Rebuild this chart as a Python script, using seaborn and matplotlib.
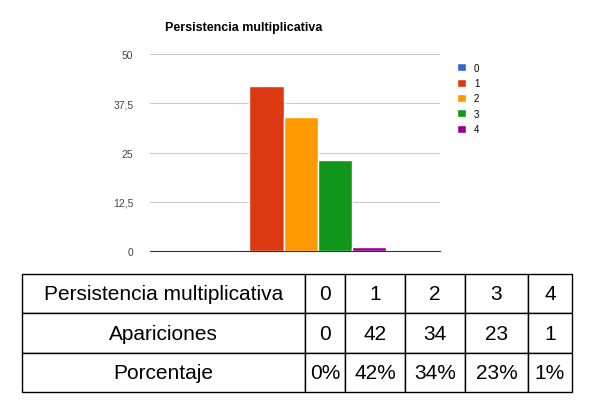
import matplotlib
matplotlib.use("Agg")
import matplotlib.pyplot as plt
import seaborn as sns
import pandas as pd

plt.rcParams["font.family"] = "Liberation Sans"

series = ["0", "1", "2", "3", "4"]
values = [0, 42, 34, 23, 1]
colors = ["#3366cc", "#dc3912", "#ff9900", "#109618", "#990099"]
row_labels = ["Persistencia multiplicativa", "Apariciones", "Porcentaje"]
percent = ["0%", "42%", "34%", "23%", "1%"]
yticks = [0, 12.5, 25, 37.5, 50]
ytick_labels = ["0", "12,5", "25", "37,5", "50"]

df = pd.DataFrame({"cat": [""] * 5, "serie": series, "val": values})

fig = plt.figure(figsize=(6, 4.14), dpi=100)
ax = fig.add_axes([150/600, 1-252/414, 290/600, 197/414])
sns.barplot(data=df, x="cat", y="val", hue="serie", palette=colors, width=0.59,
            ax=ax, saturation=1, dodge=True, edgecolor="white", linewidth=1)
ax.set_ylim(0, 50)
ax.set_xlim(-0.52, 0.48)
ax.set_yticks(yticks)
ax.set_yticklabels(ytick_labels, fontsize=7.5, color="#444444")
ax.tick_params(length=0, pad=12)
ax.set_xticks([])
ax.set_xlabel(""); ax.set_ylabel("")
ax.grid(axis="y", color="#cccccc", linewidth=0.8)
ax.set_axisbelow(True)
for s in ["top", "right", "left"]:
    ax.spines[s].set_visible(False)
ax.spines["bottom"].set_color("#333333")
ax.set_title("Persistencia multiplicativa", fontsize=9, fontweight="bold",
             loc="left", x=15/290, y=1.08)
leg = ax.legend(loc="upper left", bbox_to_anchor=(1.03, 1.0), frameon=False,
                fontsize=7, handlelength=0.9, handleheight=0.9, labelspacing=0.55,
                handletextpad=0.8)

# table
tax = fig.add_axes([22/600, 1-393/414, 550/600, 118/414])
tax.axis("off")
rows = [[row_labels[0]] + series,
        [row_labels[1]] + [str(v) for v in values],
        [row_labels[2]] + percent]
edges = [22, 305, 345, 405, 465, 528, 572]
widths = [(edges[i+1]-edges[i])/550 for i in range(6)]
tbl = tax.table(cellText=rows, cellLoc="center", bbox=[0, 0, 1, 1], colWidths=widths)
tbl.auto_set_font_size(False)
for (r, c), cell in tbl.get_celld().items():
    cell.set_fontsize(15)
    cell.set_linewidth(1)
    cell.set_edgecolor("black")

fig.savefig("out.png", dpi=100)
